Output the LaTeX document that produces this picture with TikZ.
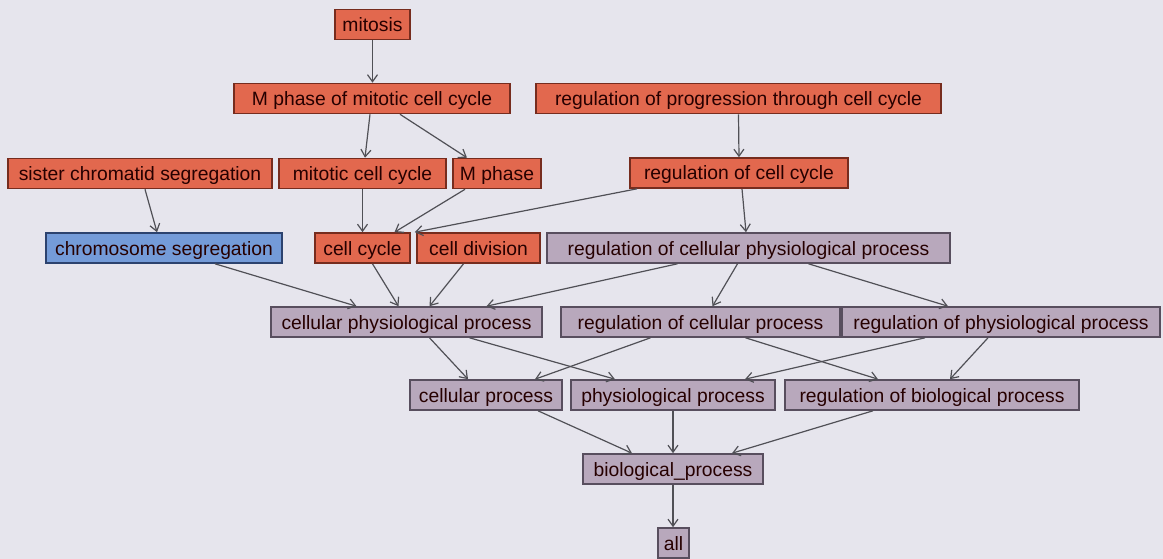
\documentclass[tikz,border=0pt]{standalone}
\usepackage{fontspec}
\setmainfont{Liberation Sans}
\usetikzlibrary{arrows.meta}
\definecolor{bgcol}{RGB}{230,229,237}
\definecolor{hitfill}{RGB}{226,104,78}
\definecolor{hitline}{RGB}{118,44,30}
\definecolor{seedfill}{RGB}{116,155,216}
\definecolor{seedline}{RGB}{44,66,110}
\definecolor{upfill}{RGB}{184,168,188}
\definecolor{upline}{RGB}{88,78,94}
\definecolor{isacol}{RGB}{80,80,86}
\tikzset{
  term/.style={draw, line width=1.6pt, rectangle, minimum height=30pt, inner xsep=2pt,
    text height=18pt, text depth=4pt, text=black!85!red,
    font=\fontsize{19.3}{22}\selectfont},
  hitterm/.style={term, fill=hitfill, draw=hitline},
  seedterm/.style={term, fill=seedfill, draw=seedline},
  upterm/.style={term, fill=upfill, draw=upline},
  isa/.style={draw=isacol, line width=1.2pt, -{Straight Barb[length=7pt,width=10pt]}}
}

\begin{document}
\begin{tikzpicture}[x=1pt,y=-1pt]
		\useasboundingbox (0,0) rectangle (1163,559);
		\fill[bgcol] (0,0) rectangle (1163,559);
		
		%top terms
		\node[hitterm, minimum width=75] (mitosis) at (372.5,24.5) {mitosis};
		\node[hitterm, minimum width=276] (mphasemit) at (372,98.5) {M phase of mitotic cell cycle};
		\node[hitterm, minimum width=405] (regprog) at (738.5,98.5) {regulation of progression through cell cycle};
		
		\node[hitterm, minimum width=264] (sister) at (140,173.5) {sister chromatid segregation};
		\node[hitterm, minimum width=167] (mitcc) at (362.5,173.5) {mitotic cell cycle};
		\node[hitterm, minimum width=88] (mphase) at (497,173.5) {M phase};
		\node[hitterm, minimum width=218] (regcc) at (739,173) {regulation of cell cycle};
		
		\node[seedterm, minimum width=236] (chromseg) at (164,248) {chromosome segregation};
		\node[hitterm, minimum width=95] (cellcycle) at (362.5,248) {cell cycle};
		\node[hitterm, minimum width=123] (celldiv) at (478.5,248) {cell division};
		\node[upterm, minimum width=403] (regcellphys) at (748.5,248) {regulation of cellular physiological process};
		
		%parents
		\node[upterm, minimum width=271] (cellphys) at (406.5,322) {cellular physiological process};
		\node[upterm, minimum width=279] (regcellproc) at (700.5,322) {regulation of cellular process};
		\node[upterm, minimum width=318] (regphys) at (1001,322) {regulation of physiological process};
		
		\node[upterm, minimum width=152] (cellproc) at (486,395) {cellular process};
		\node[upterm, minimum width=204] (physio) at (673,395) {physiological process};
		\node[upterm, minimum width=294] (regbio) at (932,395) {regulation of biological process};
		
		\node[upterm, minimum width=180] (bio) at (673,469) {biological\_process};
		\node[upterm, minimum width=31] (all) at (673.5,543) {all};
		
		%is_a links
		\draw[isa] (mitosis.south) -- (mitosis.south |- mphasemit.north);
		\draw[isa] ([xshift=-2]mphasemit.south) -- ([xshift=2.5]mitcc.north);
		\draw[isa] ([xshift=28]mphasemit.south) -- ([xshift=-30]mphase.north);
		\draw[isa] (regprog.south) -- (regcc.north);
		\draw[isa] ([xshift=5]sister.south) -- ([xshift=-7]chromseg.north);
		\draw[isa] (mitcc.south) -- (cellcycle.north);
		\draw[isa] ([xshift=-32]mphase.south) -- ([xshift=32]cellcycle.north);
		\draw[isa] ([xshift=-102]regcc.south) -- ([xshift=4]cellcycle.north east);
		\draw[isa] ([xshift=3]regcc.south) -- ([xshift=-2.5]regcellphys.north);
		
		\draw[isa] ([xshift=51]chromseg.south) -- ([xshift=-50]cellphys.north);
		\draw[isa] ([xshift=10]cellcycle.south) -- ([xshift=-8]cellphys.north);
		\draw[isa] ([xshift=-15]celldiv.south) -- ([xshift=23]cellphys.north);
		\draw[isa] ([xshift=-71]regcellphys.south) -- ([xshift=80]cellphys.north);
		\draw[isa] ([xshift=-11]regcellphys.south) -- ([xshift=12]regcellproc.north);
		\draw[isa] ([xshift=60]regcellphys.south) -- ([xshift=-53]regphys.north);
		
		\draw[isa] ([xshift=23]cellphys.south) -- ([xshift=-18]cellproc.north);
		\draw[isa] ([xshift=63]cellphys.south) -- ([xshift=-58]physio.north);
		\draw[isa] ([xshift=-50]regcellproc.south) -- ([xshift=49]cellproc.north);
		\draw[isa] ([xshift=45]regcellproc.south) -- ([xshift=-54]regbio.north);
		\draw[isa] ([xshift=-76]regphys.south) -- ([xshift=72]physio.north);
		\draw[isa] ([xshift=-13]regphys.south) -- ([xshift=18]regbio.north);
		
		\draw[isa] ([xshift=52]cellproc.south) -- ([xshift=-41]bio.north);
		\draw[isa] (physio.south) -- (bio.north);
		\draw[isa] ([xshift=-59]regbio.south) -- ([xshift=59]bio.north);
		\draw[isa] (bio.south) -- (bio.south |- all.north);
\end{tikzpicture}
\end{document}
